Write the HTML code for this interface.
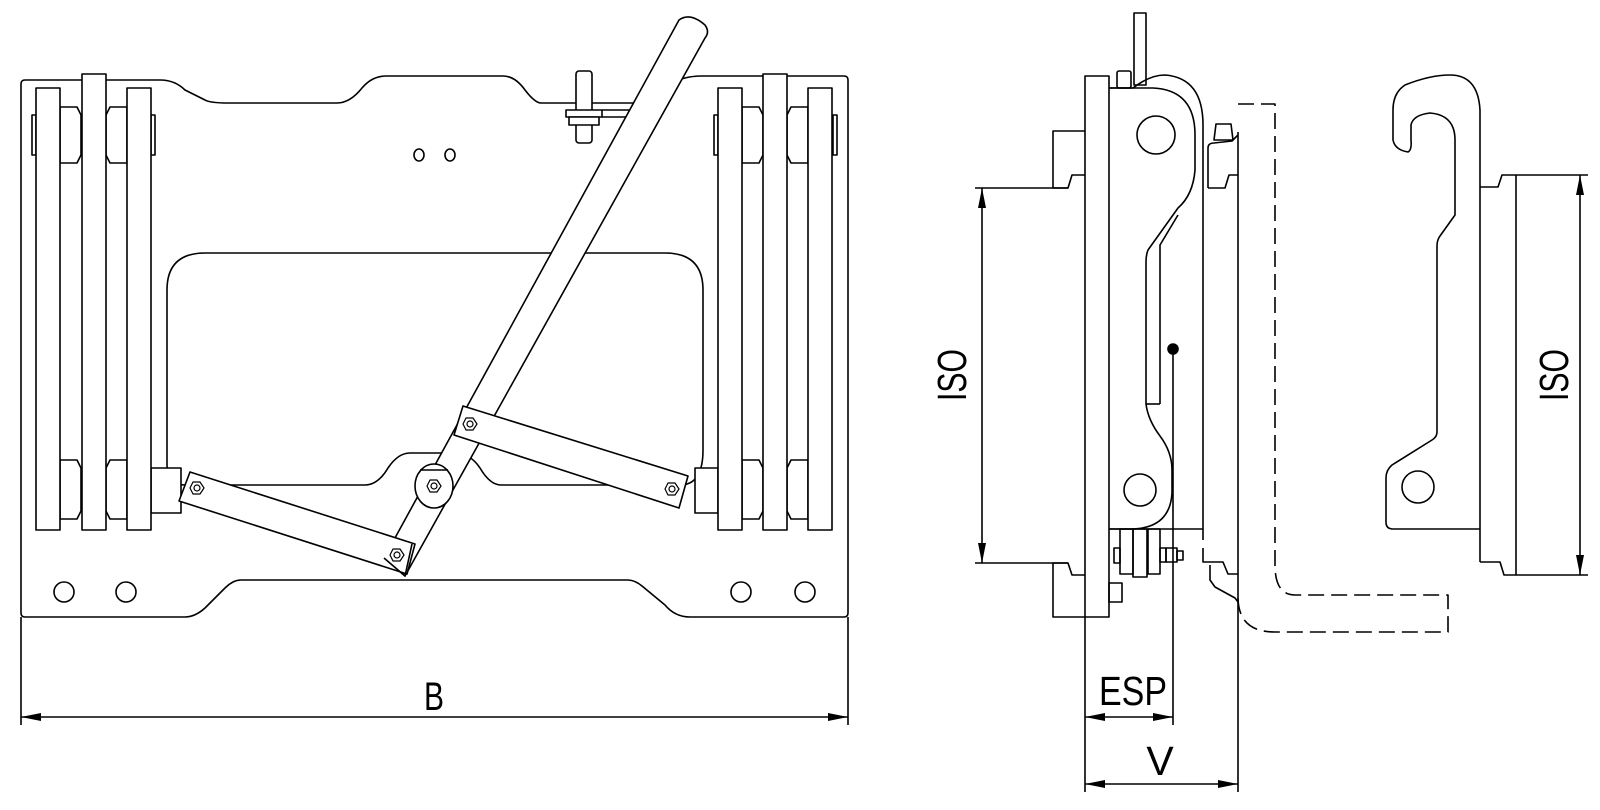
<!DOCTYPE html>
<html><head><meta charset="utf-8"><style>
html,body{margin:0;padding:0;background:#fff}
svg{display:block}
text{font-family:"Liberation Sans",sans-serif;font-weight:normal;fill:#000}
</style></head><body>
<svg width="1600" height="810" viewBox="0 0 1600 810" xmlns="http://www.w3.org/2000/svg">
<defs>
<marker id="a" viewBox="0 0 20 8" refX="20" refY="4" markerWidth="20" markerHeight="8" markerUnits="userSpaceOnUse" orient="auto-start-reverse"><path d="M0,0 L20,4 L0,8 Z" fill="#000"/></marker>
</defs>
<g fill="none" stroke="#000" stroke-width="1.6" stroke-linejoin="round">
<!-- LEFT VIEW plate -->
<path d="M25,80 L160,80 Q175,80 185,90 L205,100 Q210,103 228,103 L337,103 Q350,103 362,88 Q372,76 386,76 L503,76 Q515,76 525,90 Q535,103 541,103 L640,103 Q655,98 670,85 Q682,76 702,76 L844,76 Q848,76 848,80 L848,613 Q848,617 844,617 L690,617 Q675,617 665,605 L642,586 Q635,580 627,580 L241,580 Q233,580 225,588 L205,608 Q195,617 185,617 L25,617 Q21,617 21,613 L21,84 Q21,80 25,80 Z"/>
<!-- window -->
<path d="M167,290 Q167,253 205,253 L665,253 Q703,253 703,290 L703,450 Q703,485 680,485 L501,485 Q490,485 480,468 Q470,453 455,453 L410,453 Q398,453 388,468 Q378,485 365,485 L185,485 Q167,485 167,465 Z"/>
<!-- small holes -->
<ellipse cx="419" cy="155" rx="5" ry="6"/><ellipse cx="450" cy="155" rx="5" ry="6"/>
<circle cx="64" cy="592" r="10"/><circle cx="126" cy="592" r="10"/><circle cx="741" cy="592" r="10"/><circle cx="805" cy="592" r="10"/>
<!-- left rails -->
<g fill="#fff">
<path d="M60,107 L77,107 L81,115 L81,155 L77,163 L60,163 Z"/>
<path d="M106,115 L110,107 L127,107 L127,163 L110,163 L106,155 Z"/>
<path d="M60,460 L77,460 L81,468 L81,511 L77,519 L60,519 Z"/>
<path d="M106,468 L110,460 L127,460 L127,519 L110,519 L106,511 Z"/>
<rect x="32" y="115" width="4" height="40"/><rect x="151" y="115" width="4" height="40"/>
<rect x="151" y="468" width="30" height="45"/>
<rect x="36" y="88" width="24" height="442"/>
<rect x="82" y="74" width="24" height="456"/>
<rect x="127" y="88" width="24" height="442"/>
<!-- right rails -->
<path d="M742,107 L759,107 L763,115 L763,155 L759,163 L742,163 Z"/>
<path d="M787,115 L791,107 L808,107 L808,163 L791,163 L787,155 Z"/>
<path d="M742,460 L759,460 L763,468 L763,511 L759,519 L742,519 Z"/>
<path d="M787,468 L791,460 L808,460 L808,519 L791,519 L787,511 Z"/>
<rect x="714" y="115" width="4" height="40"/><rect x="833" y="115" width="4" height="40"/>
<rect x="695" y="468" width="23" height="45"/>
<rect x="718" y="88" width="24" height="442"/>
<rect x="763" y="74" width="24" height="456"/>
<rect x="808" y="88" width="24" height="442"/>
</g>
<!-- pin -->
<rect x="576" y="71" width="16" height="72" rx="3" fill="#fff"/>
<rect x="566" y="110" width="36" height="7" fill="#fff"/>
<rect x="569" y="117" width="30" height="8" fill="#fff"/>
<path d="M602,110 L640,110 M602,117 L640,117"/>
<!-- handle -->
<path d="M679,20 Q690,12 705,25 Q710,32 705,38 L405,576 L384,558 Z" fill="#fff"/>
<!-- boss and middle bolt -->
<ellipse cx="434" cy="486" rx="19" ry="22" fill="#fff"/>
<path d="M420,470 L448,470" />
<!-- links -->
<path d="M190,472 L415,544 L407,574 L179,501 Z" fill="#fff"/>
<path d="M463,406 L688,476 L679,508 L454,435 Z" fill="#fff"/>
<path d="M384,558 L405,576 L412,544" fill="none"/>
<g stroke-width="1.2">
<polygon points="204,488 200,494 193,494 190,488 193,482 200,482"/><circle cx="197" cy="488" r="3"/>
<polygon points="404,555 400,561 393,561 390,555 393,549 400,549"/><circle cx="397" cy="555" r="3"/>
<polygon points="477,424 473,430 466,430 463,424 466,418 473,418"/><circle cx="470" cy="424" r="3"/>
<polygon points="679,489 675,495 668,495 665,489 668,483 675,483"/><circle cx="672" cy="489" r="3"/>
<polygon points="441,486 437,492 430,492 427,486 430,480 437,480"/><circle cx="434" cy="486" r="3"/>
</g>
<!-- B dimension -->
<path d="M21,617 L21,725 M848,617 L848,725"/>
<line x1="21" y1="717" x2="848" y2="717" marker-start="url(#a)" marker-end="url(#a)"/>

<!-- RIGHT VIEW -->
<!-- flanges -->
<path d="M1085,131 L1053,131 L1053,188 L1068,188 L1072,175 L1085,175"/>
<path d="M1085,575 L1072,575 L1068,563 L1053,563 L1053,617 L1085,617"/>
<path d="M975,188 L1068,188 M975,563 L1068,563"/>
<rect x="1085" y="76" width="24" height="541" fill="#fff"/>
<rect x="1134" y="13" width="12" height="72"/>
<rect x="1117" y="71" width="14" height="17" rx="2"/>
<!-- hook plate -->
<path d="M1109,88 L1133,88 Q1150,75 1165,75 Q1203,78 1203,125 L1203,540"/>
<path d="M1109,88 L1153,88 Q1195,90 1195,135 L1195,170 Q1193,195 1178,208 L1148,250 Q1146,255 1146,262 L1146,404 Q1148,420 1160,436 Q1172,452 1172,470 L1172,493 Q1170,529 1130,529 L1109,529"/>
<path d="M1160,404 L1160,245 L1178,215"/>
<path d="M1146,404 L1160,404"/>
<path d="M1109,529 L1203,529"/>
<circle cx="1156" cy="135" r="19"/>
<circle cx="1140" cy="490" r="16"/>
<circle cx="1173" cy="349" r="5" fill="#000"/>
<line x1="1173" y1="349" x2="1173" y2="725"/>
<!-- bolts under -->
<rect x="1120" y="529" width="13" height="45"/><rect x="1133" y="529" width="14" height="48"/><rect x="1148" y="529" width="12" height="45"/>
<rect x="1114" y="548" width="6" height="15"/><rect x="1160" y="548" width="6" height="14"/><rect x="1166" y="548" width="11" height="14"/><rect x="1177" y="551" width="6" height="9"/>
<rect x="1109" y="583" width="13" height="19"/>
<!-- brackets -->
<path d="M1216,124 L1231,124 L1233,140 L1214,140 Z"/>
<path d="M1208,188 L1208,148 Q1208,143 1214,143 L1232,141 L1238,135"/>
<path d="M1208,188 L1225,188 L1229,175 L1238,175"/>
<path d="M1203,548 L1203,562 L1223,562 L1228,574 L1238,574"/>
<path d="M1210,565 L1210,580 L1215,587 L1235,598 L1238,602"/>
<line x1="1238" y1="132" x2="1238" y2="792"/>
<!-- dashed fork -->
<path d="M1238,104 L1275,104 L1275,565 Q1275,595 1295,595 L1448,595 L1448,632 L1275,632 Q1238,632 1238,597" stroke-dasharray="16,7"/>
<!-- right hook -->
<path d="M1480,110 Q1478,75 1450,75 Q1430,75 1405,85 Q1393,93 1393,110 L1393,140 Q1395,150 1408,152 Q1412,150 1411,140 L1411,125 Q1413,115 1430,113 Q1455,115 1455,140 L1455,215 L1440,236 Q1437,240 1437,246 L1437,432 Q1437,437 1432,440 L1392,465 Q1386,470 1386,478 L1386,522 Q1386,529 1393,529 L1480,529"/>
<circle cx="1418" cy="487" r="16"/>
<path d="M1480,110 L1480,562"/>
<path d="M1480,187 L1498,187 L1502,175 L1588,175"/>
<path d="M1480,562 L1500,562 L1504,575 L1588,575"/>
<line x1="1516" y1="175" x2="1516" y2="575"/>
<!-- dims right -->
<line x1="982" y1="188" x2="982" y2="563" marker-start="url(#a)" marker-end="url(#a)"/>
<line x1="1580" y1="175" x2="1580" y2="575" marker-start="url(#a)" marker-end="url(#a)"/>
<path d="M1085,617 L1085,792"/>
<line x1="1085" y1="717" x2="1173" y2="717" marker-start="url(#a)" marker-end="url(#a)"/>
<line x1="1085" y1="784" x2="1238" y2="784" marker-start="url(#a)" marker-end="url(#a)"/>
</g>
<text x="434" y="710" font-size="40" text-anchor="middle" textLength="20" lengthAdjust="spacingAndGlyphs">B</text>
<text x="1133" y="705" font-size="41" text-anchor="middle" textLength="68" lengthAdjust="spacingAndGlyphs">ESP</text>
<text x="1160" y="775" font-size="41" text-anchor="middle">V</text>
<text transform="translate(966,375) rotate(-90)" font-size="41" text-anchor="middle" textLength="52" lengthAdjust="spacingAndGlyphs">ISO</text>
<text transform="translate(1568,375) rotate(-90)" font-size="41" text-anchor="middle" textLength="52" lengthAdjust="spacingAndGlyphs">ISO</text>
</svg>
</body></html>
